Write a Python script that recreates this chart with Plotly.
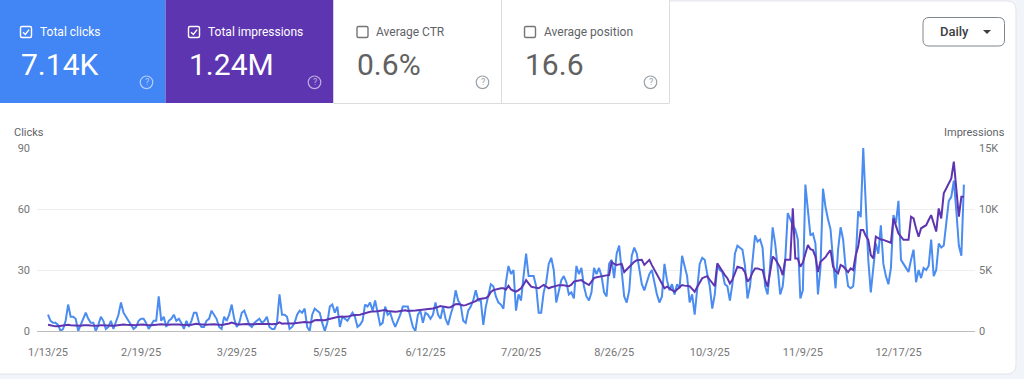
import plotly.graph_objects as go
import pandas as pd

# ---------------- data ----------------
start_date = "2025-01-13"

clicks = [
    8, 5, 4, 4, 3, 0, 1,
    5, 13, 7, 7, 6, 0, 3,
    6, 9, 6, 4, 4, 0, 3,
    7, 5, 1, 2, 5, 1, 5,
    8, 14, 9, 7, 5, 3, 1,
    2, 5, 6, 6, 4, 1, 3,
    5, 5, 17, 5, 7, 2, 5,
    6, 8, 5, 6, 4, 1, 5,
    2, 5, 9, 9, 4, 2, 2,
    5, 6, 10, 8, 6, 2, 1,
    7, 5, 8, 13, 6, 2, 4,
    9, 10, 6, 3, 2, 4, 5,
    6, 4, 5, 7, 2, 1, 1,
    4, 18, 8, 8, 7, 1, 2,
    4, 8, 10, 9, 11, 2, 0,
    8, 11, 10, 9, 4, 0, 4,
    12, 13, 9, 12, 2, 7, 6,
    5, 7, 9, 7, 2, 3, 5,
    13, 12, 14, 10, 15, 9, 3,
    4, 12, 8, 9, 5, 2, 5,
    8, 12, 12, 12, 7, 2, 0,
    8, 10, 4, 9, 8, 6, 8,
    14, 8, 6, 12, 6, 3, 8,
    12, 20, 15, 13, 5, 4, 10,
    12, 15, 20, 15, 15, 3, 12,
    18, 23, 22, 17, 14, 13, 11,
    24, 32, 28, 30, 10, 18, 15,
    27, 38, 27, 27, 27, 22, 9,
    9, 19, 24, 33, 36, 30, 14,
    20, 25, 27, 24, 18, 19, 16,
    32, 28, 31, 22, 17, 15, 19,
    31, 28, 31, 27, 19, 17, 33,
    35, 26, 38, 42, 28, 17, 14,
    20, 37, 41, 38, 30, 23, 20,
    24, 28, 30, 24, 18, 14, 17,
    33, 25, 20, 23, 18, 23, 21,
    37, 32, 27, 14, 18, 8, 22,
    33, 36, 35, 28, 22, 11, 18,
    32, 30, 29, 23, 22, 15, 23,
    38, 42, 41, 40, 32, 16, 22,
    36, 47, 44, 45, 41, 22, 18,
    32, 51, 43, 31, 18, 22, 35,
    58, 55, 52, 50, 45, 16, 20,
    72, 59, 47, 48, 43, 18, 31,
    70, 61, 55, 50, 35, 21, 40,
    51, 45, 31, 22, 21, 22, 35,
    59, 56, 90, 58, 35, 19, 32,
    43, 38, 52, 33, 27, 23, 31,
    57, 53, 64, 35, 33, 31, 29,
    35, 40, 24, 30, 26, 31, 30,
    32, 45, 27, 30, 43, 41, 42,
    53, 64, 66, 74, 59, 42, 37,
    72,
]

impressions = [
    520, 470, 420, 380, 390, 430, 450,
    460, 520, 480, 470, 440, 400, 430,
    470, 500, 480, 460, 450, 420, 440,
    480, 470, 440, 420, 450, 430, 460,
    500, 560, 540, 520, 500, 470, 460,
    480, 520, 540, 530, 500, 470, 480,
    500, 520, 600, 560, 540, 510, 520,
    540, 560, 550, 540, 520, 500, 520,
    500, 520, 580, 600, 560, 530, 510,
    520, 540, 580, 560, 540, 500, 490,
    540, 560, 620, 700, 620, 560, 540,
    560, 600, 580, 560, 540, 560, 580,
    590, 600, 610, 620, 580, 560, 570,
    600, 700, 600, 620, 600, 590, 610,
    640, 680, 700, 720, 740, 720, 700,
    760, 880, 900, 880, 860, 880, 940,
    1000, 1050, 1080, 1150, 1170, 1150, 1160,
    1180, 1200, 1280, 1320, 1300, 1330, 1400,
    1480, 1560, 1580, 1590, 1580, 1620, 1660,
    1680, 1720, 1640, 1600, 1580, 1580, 1590,
    1620, 1680, 1700, 1650, 1640, 1660, 1680,
    1700, 1720, 1720, 1740, 1760, 1800, 1840,
    1900, 2000, 2050, 2000, 1950, 1920, 1950,
    2100, 2200, 2220, 2150, 2100, 2120, 2200,
    2250, 2320, 2450, 2600, 2620, 2650, 2700,
    2850, 3200, 3350, 3420, 3450, 3500, 3500,
    3400, 3700, 3400, 3300, 3220, 3350, 3500,
    3800, 4170, 3900, 3630, 3580, 3520, 3500,
    3650, 3770, 3650, 3500, 3580, 3670, 3700,
    3740, 3770, 3740, 3700, 3670, 3800, 4050,
    4100, 4130, 4170, 4000, 3850, 3770, 4050,
    4330, 4400, 4450, 4500, 4530, 4560, 4580,
    5670, 5500, 5420, 5460, 5500, 4830, 5050,
    5270, 5470, 5670, 5800, 5830, 5830, 5420,
    5620, 5830, 5400, 5000, 4600, 4170, 3850,
    3500, 3630, 3500, 3350, 3220, 3400, 3600,
    3770, 3720, 3690, 3670, 3450, 3220, 3600,
    4000, 4330, 4420, 4500, 4200, 3900, 3670,
    5550, 5200, 4830, 4580, 4330, 3900, 4200,
    4830, 5270, 5200, 5130, 4830, 4050, 4300,
    4800, 5130, 5130, 5050, 5000, 4170, 3630,
    4830, 6100, 5900, 5600, 5200, 4580, 5830,
    5830, 5830, 10050, 5950, 5950, 5270, 5600,
    6300, 7050, 6700, 6630, 6100, 4830, 5670,
    5850, 6050, 6370, 6630, 5300, 4900, 4730,
    5420, 5300, 5050, 4830, 5130, 5000, 6200,
    6920, 8280, 8280, 7800, 7470, 6230, 5950,
    7730, 7600, 7500, 7470, 7400, 7330, 7230,
    9230, 8550, 8000, 7730, 7470, 7470, 7470,
    9370, 9230, 8400, 7730, 8420, 8550, 8670,
    9100, 9500, 8830, 8150, 10050, 9230, 11280,
    11700, 12100, 12500, 13880, 11550, 9370, 11000,
    11000,
]

x_tick_dates = ["2025-01-13", "2025-02-19", "2025-03-29", "2025-05-05", "2025-06-12",
                "2025-07-20", "2025-08-26", "2025-10-03", "2025-11-09", "2025-12-17"]
x_tick_labels = ["1/13/25", "2/19/25", "3/29/25", "5/5/25", "6/12/25",
                 "7/20/25", "8/26/25", "10/3/25", "11/9/25", "12/17/25"]
clicks_ticks = [0, 30, 60, 90]
impr_ticks = [0, 5000, 10000, 15000]
impr_tick_labels = ["0", "5K", "10K", "15K"]

card_labels = ["Total clicks", "Total impressions", "Average CTR", "Average position"]
card_values = ["7.14K", "1.24M", "0.6%", "16.6"]
card_checked = [True, True, False, False]

assert len(clicks) == len(impressions) == 365

dates = pd.date_range(start_date, periods=len(clicks), freq="D")

# ---------------- geometry helpers ----------------
W, H = 1024, 379
L, R, T, B = 37, 975, 148, 331


def fx(x):
    return (x - L) / (R - L)


def fy(y):
    return (B - y) / (B - T)


def rounded_rect(x0, y0, x1, y1, r):
    rx = r / (R - L)
    ry = r / (B - T)
    X0, X1 = fx(x0), fx(x1)
    Yt, Yb = fy(y0), fy(y1)
    return (f"M {X0 + rx} {Yt} L {X1 - rx} {Yt} Q {X1} {Yt} {X1} {Yt - ry} "
            f"L {X1} {Yb + ry} Q {X1} {Yb} {X1 - rx} {Yb} "
            f"L {X0 + rx} {Yb} Q {X0} {Yb} {X0} {Yb + ry} "
            f"L {X0} {Yt - ry} Q {X0} {Yt} {X0 + rx} {Yt} Z")


FONT = "Roboto, Arial, sans-serif"
shapes = []
annotations = []

# outer card
shapes.append(dict(type="path", xref="paper", yref="paper", layer="below",
                   path=rounded_rect(-12, 1, 1016, 374, 9),
                   fillcolor="white", line=dict(color="#e2e5ea", width=1)))

# metric cards
card_x = [(0, 165.5), (165.5, 333.5), (333.5, 501.5), (501.5, 669.5)]
card_fill = ["#4285F4", "#5E35B1", "white", "white"]
for (x0, x1), fill in zip(card_x, card_fill):
    shapes.append(dict(type="rect", xref="paper", yref="paper", layer="below",
                       x0=fx(x0), x1=fx(x1), y0=fy(103), y1=fy(0),
                       fillcolor=fill, line=dict(width=0)))
# borders of white cards
for xv in (501.5, 669.5):
    shapes.append(dict(type="line", xref="paper", yref="paper", layer="below",
                       x0=fx(xv), x1=fx(xv), y0=fy(103), y1=fy(0),
                       line=dict(color="#dadce0", width=1)))
shapes.append(dict(type="line", xref="paper", yref="paper", layer="below",
                   x0=fx(333.5), x1=fx(669.5), y0=fy(103.5), y1=fy(103.5),
                   line=dict(color="#dadce0", width=1)))

checkbox_x = [20.5, 188.5, 357, 524.5]
for i, (label, value, checked) in enumerate(zip(card_labels, card_values, card_checked)):
    ox = checkbox_x[i]
    fg = "white" if checked else "#5f6368"
    box_col = "white" if checked else "#757575"
    # checkbox
    shapes.append(dict(type="path", xref="paper", yref="paper",
                       path=rounded_rect(ox, 26.5, ox + 11, 37.5, 1.5),
                       line=dict(color=box_col, width=1.4), fillcolor="rgba(0,0,0,0)"))
    if checked:
        shapes.append(dict(type="path", xref="paper", yref="paper",
                           path=(f"M {fx(ox + 2.6)} {fy(32.2)} L {fx(ox + 4.8)} {fy(34.4)} "
                                 f"L {fx(ox + 8.6)} {fy(29.6)}"),
                           line=dict(color="white", width=1.4)))
    annotations.append(dict(x=fx(ox + 18), y=fy(31.8), xref="paper", yref="paper",
                            text=label, showarrow=False, xanchor="left", yanchor="middle",
                            borderpad=0, font=dict(family=FONT, size=12, color=fg)))
    annotations.append(dict(x=fx(ox - 1), y=fy(65), xref="paper", yref="paper",
                            text=value, showarrow=False, xanchor="left", yanchor="middle",
                            borderpad=0,
                            font=dict(family=FONT, size=30,
                                      color="white" if checked else "#616161")))
    # help icon
    hx = card_x[i][1] - 19
    hcol = "rgba(255,255,255,0.6)" if checked else "#9aa0a6"
    shapes.append(dict(type="circle", xref="paper", yref="paper",
                       x0=fx(hx - 6.3), x1=fx(hx + 6.3), y0=fy(82.3 + 6.3), y1=fy(82.3 - 6.3),
                       line=dict(color=hcol, width=1.2)))
    annotations.append(dict(x=fx(hx), y=fy(82.3), xref="paper", yref="paper",
                            text="?", showarrow=False, xanchor="center", yanchor="middle",
                            borderpad=0, font=dict(family=FONT, size=9, color=hcol)))

# Daily button
shapes.append(dict(type="path", xref="paper", yref="paper",
                   path=rounded_rect(923, 17.5, 1004.5, 46, 6),
                   line=dict(color="#80868b", width=1), fillcolor="white"))
annotations.append(dict(x=fx(954), y=fy(31.8), xref="paper", yref="paper",
                        text="Daily", showarrow=False, xanchor="center", yanchor="middle",
                        borderpad=0,
                        font=dict(family=FONT, size=13, color="#3c4043", weight=500)))
shapes.append(dict(type="path", xref="paper", yref="paper",
                   path=f"M {fx(983)} {fy(30)} L {fx(991)} {fy(30)} L {fx(987)} {fy(34)} Z",
                   fillcolor="#3c4043", line=dict(width=0)))

# axis titles
annotations.append(dict(x=fx(12.5), y=fy(133), xref="paper", yref="paper",
                        text="Clicks", showarrow=False, xanchor="left", yanchor="middle",
                        borderpad=0, font=dict(family=FONT, size=11, color="#5f6368")))
annotations.append(dict(x=fx(1005.5), y=fy(133), xref="paper", yref="paper",
                        text="Impressions", showarrow=False, xanchor="right", yanchor="middle",
                        borderpad=0, font=dict(family=FONT, size=11, color="#5f6368")))

# ---------------- figure ----------------
fig = go.Figure()
fig.add_trace(go.Scatter(x=dates, y=clicks, mode="lines", name="Clicks",
                         line=dict(color="#4A8CF0", width=2), yaxis="y",
                         hoverinfo="skip"))
fig.add_trace(go.Scatter(x=dates, y=impressions, mode="lines", name="Impressions",
                         line=dict(color="#5E35B1", width=2), yaxis="y2",
                         hoverinfo="skip"))

fig.update_layout(
    width=W, height=H,
    margin=dict(l=L, r=W - R, t=T, b=H - B, autoexpand=False),
    paper_bgcolor="#f1f4f9",
    plot_bgcolor="rgba(0,0,0,0)",
    showlegend=False,
    font=dict(family=FONT, size=11, color="#757575"),
    xaxis=dict(
        type="date",
        range=["2025-01-08 15:00", "2026-01-16 10:00"],
        tickvals=x_tick_dates, ticktext=x_tick_labels,
        showgrid=False, zeroline=False,
        showline=True, linecolor="#bdbdbd", linewidth=1,
        ticks="", ticklabelstandoff=11,
        tickfont=dict(family=FONT, size=11, color="#757575"),
    ),
    yaxis=dict(
        range=[0, 90], tickvals=clicks_ticks,
        showgrid=True, gridcolor="#eeeeee", gridwidth=1,
        zeroline=False, showline=False, ticks="",
        ticklabelstandoff=6,
        tickfont=dict(family=FONT, size=11, color="#757575"),
    ),
    yaxis2=dict(
        range=[0, 15000], tickvals=impr_ticks, ticktext=impr_tick_labels,
        overlaying="y", side="right",
        showgrid=False, zeroline=False, showline=False, ticks="",
        ticklabelstandoff=3,
        tickfont=dict(family=FONT, size=11, color="#757575"),
    ),
    shapes=shapes,
    annotations=annotations,
)

fig.write_html("out.html",
               config={"displayModeBar": False, "staticPlot": True},
               post_script="document.body.style.margin='0';document.body.style.overflow='hidden';")
